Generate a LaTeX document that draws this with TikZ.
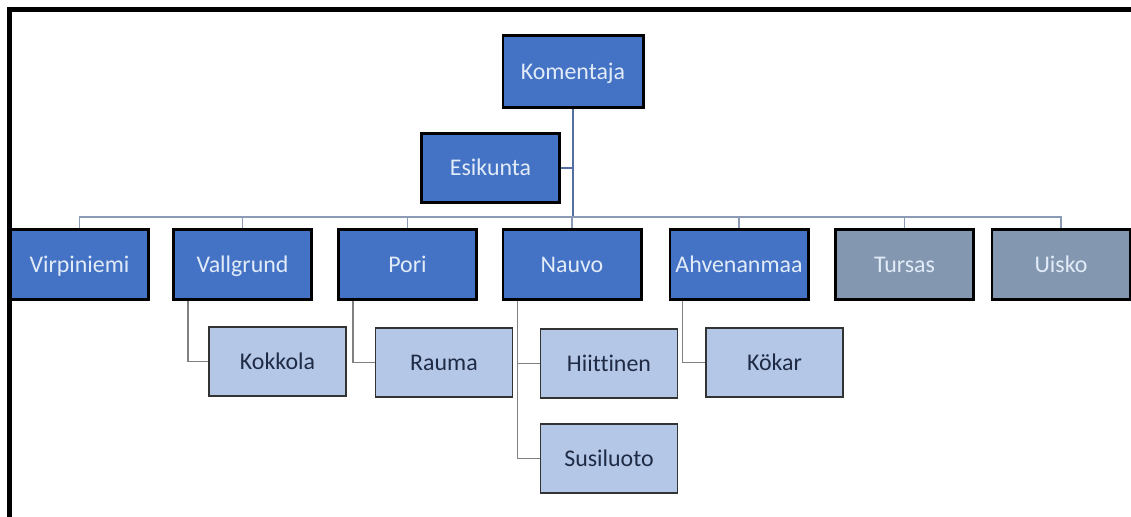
\documentclass[tikz,border=0pt]{standalone}
\usepackage{fontspec}
\setmainfont[Ligatures=NoCommon]{Carlito}
\usetikzlibrary{positioning}

\definecolor{unitblue}{HTML}{4472C4}
\definecolor{shipgray}{HTML}{8497B0}
\definecolor{sublight}{HTML}{B4C7E7}
\definecolor{paletext}{HTML}{E2ECF8}
\definecolor{darktext}{HTML}{1F2A44}
\definecolor{trunkline}{HTML}{5570A0}
\definecolor{busline}{HTML}{8C9BB5}

\begin{document}
\begin{tikzpicture}[
    x=0.025cm, y=-0.025cm,
    every node/.style={font=\fontsize{17}{20}\selectfont, text height=11pt, text depth=0pt},
    unit/.style={draw=black, line width=2.1pt, fill=unitblue, text=paletext, minimum width=3.45cm, minimum height=1.73cm, inner sep=0pt},
    ship/.style={unit, fill=shipgray},
    sub/.style={draw=black!80, line width=1pt, fill=sublight, text=darktext, minimum width=3.42cm, minimum height=1.72cm, inner sep=0pt},
    trunk/.style={draw=trunkline, line width=1.2pt},
    bus/.style={draw=busline, line width=1.1pt},
    link/.style={draw=gray, line width=1pt}
]
\useasboundingbox (0,0) rectangle (1131,517);
\fill[white] (0,0) rectangle (1131,517);
% frame
\draw[line width=3.6pt] (1131,9.5) -- (9.5,9.5) -- (9.5,517);

\node[unit, minimum width=3.5cm, minimum height=1.78cm] (komentaja) at (573,71.5) {Komentaja};
\node[unit] (esikunta) at (490.5,168) {Esikunta};
\coordinate (bus) at (573,217);

\node[unit] (virpiniemi) at (79.5,264.5) {Virpiniemi};
\node[unit] (vallgrund) at (242.5,264.5) {Vallgrund};
\node[unit] (pori) at (407.5,264.5) {Pori};
\node[unit] (nauvo) at (572,264.5) {Nauvo};
\node[unit] (ahvenanmaa) at (739,264.5) {Ahvenanmaa};
\node[ship] (tursas) at (904.5,264.5) {Tursas};
\node[ship] (uisko) at (1061,264.5) {Uisko};

\node[sub] (kokkola) at (277.5,361.5) {Kokkola};
\node[sub] (rauma) at (444,362.5) {Rauma};
\node[sub] (hiittinen) at (609,363.5) {Hiittinen};
\node[sub] (susiluoto) at (609,458.5) {Susiluoto};
\node[sub] (kokar) at (774.5,362.5) {Kökar};

% command line
\draw[trunk] (komentaja.south) -- (bus);
\draw[trunk] (esikunta.east) -- (esikunta.east -| komentaja.south);
\foreach \n in {virpiniemi, vallgrund, pori, nauvo, ahvenanmaa, tursas, uisko}
    \draw[bus] (bus) -| (\n.north);

% subordinate units
\draw[link] ([xshift=0.4cm]vallgrund.south west) |- (kokkola.west);
\draw[link] ([xshift=0.4cm]pori.south west) |- (rauma.west);
\draw[link] ([xshift=0.4cm]nauvo.south west) |- (hiittinen.west);
\draw[link] ([xshift=0.4cm]nauvo.south west) |- (susiluoto.west);
\draw[link] ([xshift=0.35cm]ahvenanmaa.south west) |- (kokar.west);
\end{tikzpicture}
\end{document}
